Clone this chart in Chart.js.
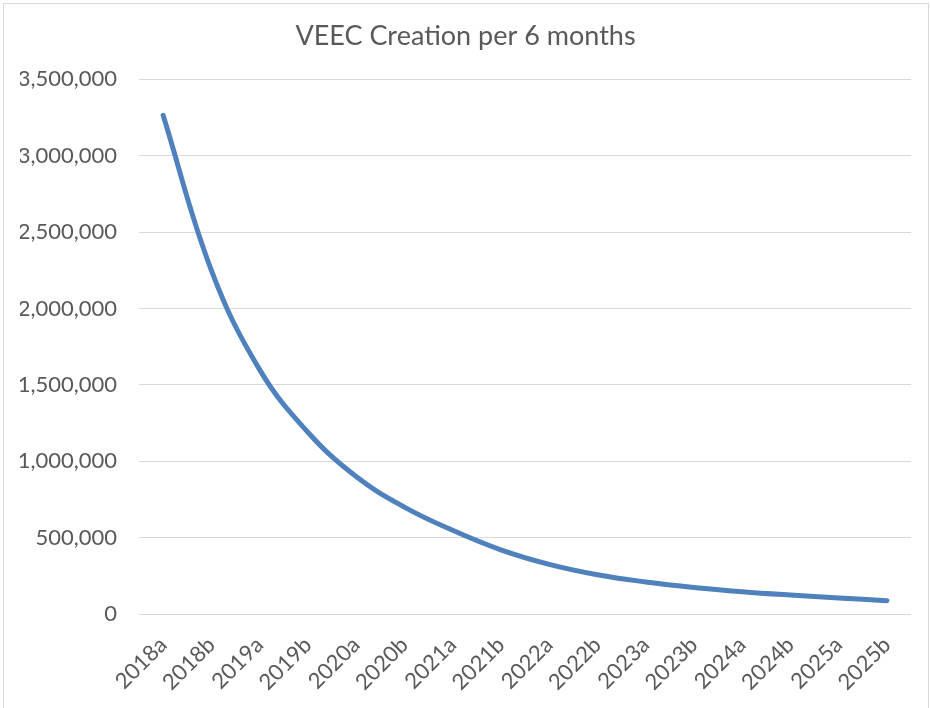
<!DOCTYPE html>
<html>
<head>
<meta charset="utf-8">
<script src="https://cdn.jsdelivr.net/npm/chart.js@4"></script>
<style>
  html, body { margin: 0; padding: 0; background: #fff; }
  #wrap { width: 931px; height: 708px; position: relative; }
</style>
</head>
<body>
<div id="wrap"><canvas id="veecChart" width="931" height="708"></canvas></div>
<script>
const periods = ["2018a", "2018b", "2019a", "2019b", "2020a", "2020b", "2021a", "2021b",
                 "2022a", "2022b", "2023a", "2023b", "2024a", "2024b", "2025a", "2025b"];
const veecCreated = [3265000, 2250000, 1600000, 1190000, 900000, 700000, 548000, 420000,
                     325000, 257000, 210000, 174000, 146000, 124000, 105000, 87000];
const yTicks = [0, 500000, 1000000, 1500000, 2000000, 2500000, 3000000, 3500000];

const grey = "#595959";
const gridGrey = "#d9d9d9";
const fontName = "Lato, 'Open Sans', sans-serif";

// light frame around the whole chart, like the Excel chart border
const frame = {
  id: "frame",
  afterDraw(chart) {
    const ctx = chart.ctx;
    ctx.save();
    ctx.strokeStyle = gridGrey;
    ctx.lineWidth = 1;
    ctx.strokeRect(3.5, 3.5, 925, 720);
    ctx.restore();
  }
};

new Chart(document.getElementById("veecChart"), {
  type: "line",
  data: {
    labels: periods,
    datasets: [{
      label: "VEEC Creation",
      data: veecCreated,
      borderColor: "#4f81bd",
      borderWidth: 5,
      borderCapStyle: "round",
      pointRadius: 0,
      fill: false,
      tension: 0.4
    }]
  },
  options: {
    responsive: false,
    animation: false,
    layout: { padding: { left: 20, right: 20, top: 0, bottom: 0 } },
    plugins: {
      legend: { display: false },
      tooltip: { enabled: false },
      title: {
        display: true,
        text: "VEEC Creation per 6 months",
        color: grey,
        font: { family: fontName, size: 27, weight: "normal" },
        padding: { top: 20, bottom: 27 }
      }
    },
    scales: {
      x: {
        offset: true,
        grid: { display: false, drawTicks: false },
        border: { display: false },
        ticks: {
          color: grey,
          font: { family: fontName, size: 22 },
          maxRotation: 45,
          minRotation: 45,
          padding: 18,
          autoSkip: false
        },
        afterFit(scale) { scale.height = 94; }
      },
      y: {
        min: 0,
        max: 3500000,
        afterBuildTicks(scale) { scale.ticks = yTicks.map(v => ({ value: v })); },
        grid: { color: gridGrey, lineWidth: 1, drawTicks: false },
        border: { display: false },
        ticks: {
          color: grey,
          font: { family: fontName, size: 22 },
          padding: 22,
          callback: v => v.toLocaleString("en-US")
        },
        afterFit(scale) { scale.width = 119; }
      }
    }
  },
  plugins: [frame]
});
</script>
</body>
</html>
